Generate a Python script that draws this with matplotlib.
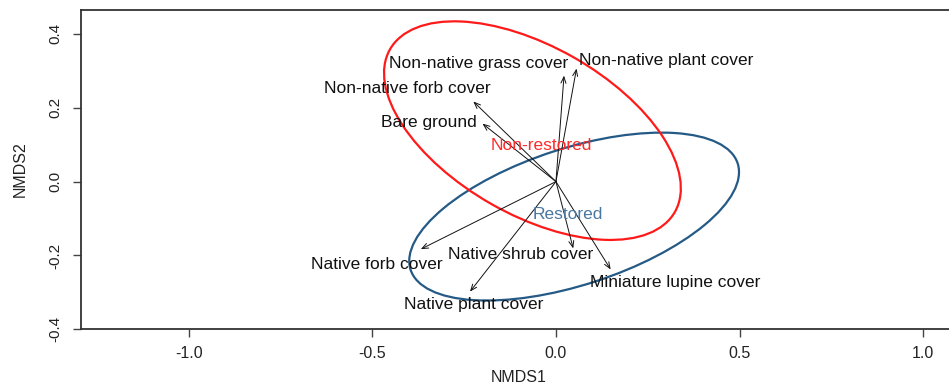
import matplotlib
matplotlib.use("Agg")
import matplotlib.pyplot as plt
from matplotlib.patches import Ellipse

plt.rcParams["font.family"] = ["Liberation Sans", "DejaVu Sans"]

# Fitted environmental vectors (NMDS scores)
variables = ["Non-native grass cover", "Non-native plant cover", "Non-native forb cover",
             "Bare ground", "Native forb cover", "Native shrub cover",
             "Native plant cover", "Miniature lupine cover"]
arrow_x = [0.022, 0.056, -0.225, -0.200, -0.368, 0.047, -0.234, 0.149]
arrow_y = [0.287, 0.306, 0.217, 0.157, -0.183, -0.181, -0.298, -0.238]
label_x = [-0.210, 0.299, -0.405, -0.345, -0.487, -0.095, -0.223, 0.324]
label_y = [0.321, 0.328, 0.251, 0.159, -0.225, -0.197, -0.334, -0.272]

# Group dispersion ellipses
groups = ["Non-restored", "Restored"]
group_label_x = [-0.039, 0.031]
group_label_y = [0.098, -0.088]
ellipse_cx = [-0.064, 0.0495]
ellipse_cy = [0.138, -0.0947]
ellipse_semi_major = [0.446, 0.468]
ellipse_semi_minor = [0.228, 0.185]
ellipse_angle = [-29.5, 17.9]
ellipse_colors = ["#ff1a1a", "#245a85"]
label_colors = ["#ff2a2a", "#4a77a0"]

W, H = 949, 391
fig = plt.figure(figsize=(W / 100, H / 100), dpi=100)
left_px, right_px, top_px, bottom_px = 80.7, 957.0, 10.0, 329.3
ax = fig.add_axes([left_px / W, 1 - bottom_px / H,
                   (right_px - left_px) / W, (bottom_px - top_px) / H])

ax.set_xlim(-1.294, 1.092)
ax.set_ylim(-0.3965, 0.4647)

# Ellipses (restored first, non-restored on top)
for i in [1, 0]:
    e = Ellipse((ellipse_cx[i], ellipse_cy[i]), 2 * ellipse_semi_major[i],
                2 * ellipse_semi_minor[i], angle=ellipse_angle[i],
                fill=False, edgecolor=ellipse_colors[i], lw=1.6, zorder=2)
    ax.add_patch(e)

# Vectors
for x, y in zip(arrow_x, arrow_y):
    ax.annotate("", xy=(x, y), xytext=(0, 0),
                arrowprops=dict(arrowstyle="->,head_length=0.45,head_width=0.18",
                                lw=0.7, color="#111111", shrinkA=0, shrinkB=0),
                zorder=3)

for name, x, y in zip(variables, label_x, label_y):
    ax.text(x, y, name, ha="center", va="center", fontsize=12.5,
            color="#111111", zorder=4)

for name, x, y, c in zip(groups, group_label_x, group_label_y, label_colors):
    ax.text(x, y, name, ha="center", va="center", fontsize=12.5, color=c, zorder=4)

# Axes styling
xt = [-1.0, -0.5, 0.0, 0.5, 1.0]
yt = [-0.4, -0.2, 0.0, 0.2, 0.4]
ax.set_xticks(xt)
ax.set_xticklabels([f"{v:.1f}" for v in xt], fontsize=11.5, color="#222222")
ax.set_yticks(yt)
ax.set_yticklabels([f"{v:.1f}" for v in yt], fontsize=11, color="#222222",
                   rotation=90, va="center")
ax.tick_params(axis="both", direction="out", length=6, width=1.0, color="#444444")
ax.tick_params(axis="x", pad=6)
ax.tick_params(axis="y", pad=7)
for side in ["left", "bottom", "top"]:
    ax.spines[side].set_color("#333333")
    ax.spines[side].set_linewidth(1.3)
ax.spines["right"].set_visible(False)

fig.text(519 / W, 1 - 378 / H, "NMDS1", ha="center", va="center",
         fontsize=11.5, color="#222222")
fig.text(20 / W, 1 - 169.6 / H, "NMDS2", ha="center", va="center",
         fontsize=11.5, color="#222222", rotation=90)

fig.savefig("out.png", dpi=100)
